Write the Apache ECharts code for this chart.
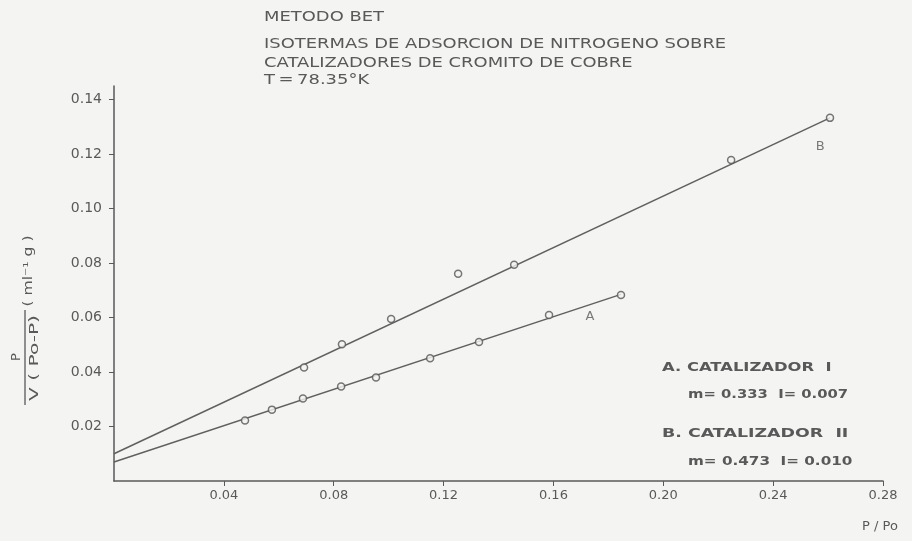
<!DOCTYPE html>
<html>
<head>
<meta charset="utf-8">
<script src="https://cdn.jsdelivr.net/npm/echarts@6/dist/echarts.min.js"></script>
<style>html,body{margin:0;padding:0;background:#f4f4f2;}#c{width:912px;height:541px;}</style>
</head>
<body>
<div id="c"></div>
<script>
// Data (x = P/Po, y = P / V(Po-P))
const pointsA = [[0.0477,0.0222],[0.0575,0.0262],[0.0688,0.0303],[0.0827,0.0347],[0.0954,0.0380],[0.1151,0.0451],[0.1329,0.0510],[0.1584,0.0609],[0.1846,0.0683]];
const pointsB = [[0.0692,0.0417],[0.0830,0.0502],[0.1009,0.0595],[0.1253,0.0761],[0.1457,0.0794],[0.2247,0.1178],[0.2607,0.1333]];
const lineA = [[0,0.007],[0.1846,0.0685]];
const lineB = [[0,0.010],[0.2607,0.1333]];
const curveLabels = [{name:'A', value:[0.1733,0.0602]},{name:'B', value:[0.2571,0.1226]}];
const xTicks = [0.04,0.08,0.12,0.16,0.20,0.24,0.28];
const yTicks = [0.02,0.04,0.06,0.08,0.10,0.12,0.14];
const titleLines = ['METODO BET','ISOTERMAS DE ADSORCION DE NITROGENO SOBRE','CATALIZADORES DE CROMITO DE COBRE','T\u2009=\u200978.35°K'];
const legendLines = ['A. CATALIZADOR  I','m= 0.333  I= 0.007','B. CATALIZADOR  II','m= 0.473  I= 0.010'];

const ink = '#595959';
const font = 'DejaVu Sans';
const chart = echarts.init(document.getElementById('c'));

const titleY = [17,44,63,80];
const legendPos = [[662,368],[688,395],[662,434],[688,462]];
const legendScale = [1.26,1.14,1.34,1.17];
const graphics = [];
titleLines.forEach((t,i)=>{
  graphics.push({type:'text', x:264, y:titleY[i], scaleX:1.28, style:{text:t, fill:ink, font:'14px '+font, textVerticalAlign:'middle'}});
});
legendLines.forEach((t,i)=>{
  graphics.push({type:'text', x:legendPos[i][0], y:legendPos[i][1], scaleX:legendScale[i], style:{text:t, fill:ink, font:'bold 13px '+font, textVerticalAlign:'middle'}});
});
// y axis title (rotated fraction)
graphics.push({type:'text', x:17, y:357, rotation:Math.PI/2, style:{text:'P', fill:ink, font:'13px '+font, textAlign:'center', textVerticalAlign:'middle'}});
graphics.push({type:'line', shape:{x1:25, y1:310, x2:25, y2:405}, style:{stroke:ink, lineWidth:1.3}});
graphics.push({type:'text', x:35, y:358, rotation:Math.PI/2, scaleX:1.55, style:{text:'V ( Po-P)', fill:ink, font:'13px '+font, textAlign:'center', textVerticalAlign:'middle'}});
graphics.push({type:'text', x:29, y:271, rotation:Math.PI/2, scaleX:1.2, style:{text:'( ml\u207B\u00B9 g )', fill:ink, font:'13px '+font, textAlign:'center', textVerticalAlign:'middle'}});
// x axis title
graphics.push({type:'text', x:880, y:527, style:{text:'P / Po', fill:ink, font:'13px '+font, textAlign:'center', textVerticalAlign:'middle'}});

const fmt = v => (xTicks.concat(yTicks).some(t=>Math.abs(t-v)<1e-9)) ? v.toFixed(2) : '';

chart.setOption({
  backgroundColor:'#f4f4f2',
  animation:false,
  grid:{left:114, right:29, top:86, bottom:60},
  xAxis:{type:'value', min:0, max:0.28,
    axisLine:{show:true, lineStyle:{color:ink, width:1.5}},
    axisTick:{show:true, length:5, customValues:xTicks, lineStyle:{color:ink}},
    axisLabel:{customValues:xTicks, formatter:fmt, color:ink, fontFamily:font, fontSize:13, margin:8},
    splitLine:{show:false}},
  yAxis:{type:'value', min:0, max:0.145,
    axisLine:{show:true, lineStyle:{color:ink, width:1.5}},
    axisTick:{show:true, length:5, customValues:yTicks, lineStyle:{color:ink}},
    axisLabel:{customValues:yTicks, formatter:fmt, color:ink, fontFamily:font, fontSize:14, margin:12},
    splitLine:{show:false}},
  series:[
    {type:'line', data:lineA, symbol:'none', lineStyle:{color:'#606060', width:1.5}, z:2},
    {type:'line', data:lineB, symbol:'none', lineStyle:{color:'#606060', width:1.5}, z:2},
    {type:'scatter', data:pointsA, symbol:'circle', symbolSize:7, itemStyle:{color:'#f4f4f2', borderColor:'#555', borderWidth:1.5}, z:3},
    {type:'scatter', data:pointsB, symbol:'circle', symbolSize:7, itemStyle:{color:'#f4f4f2', borderColor:'#555', borderWidth:1.5}, z:3},
    {type:'scatter', data:curveLabels, symbolSize:0, label:{show:true, position:'inside', formatter:'{b}', color:ink, fontFamily:font, fontSize:13}, z:4}
  ],
  graphic:graphics
});
</script>
</body>
</html>
